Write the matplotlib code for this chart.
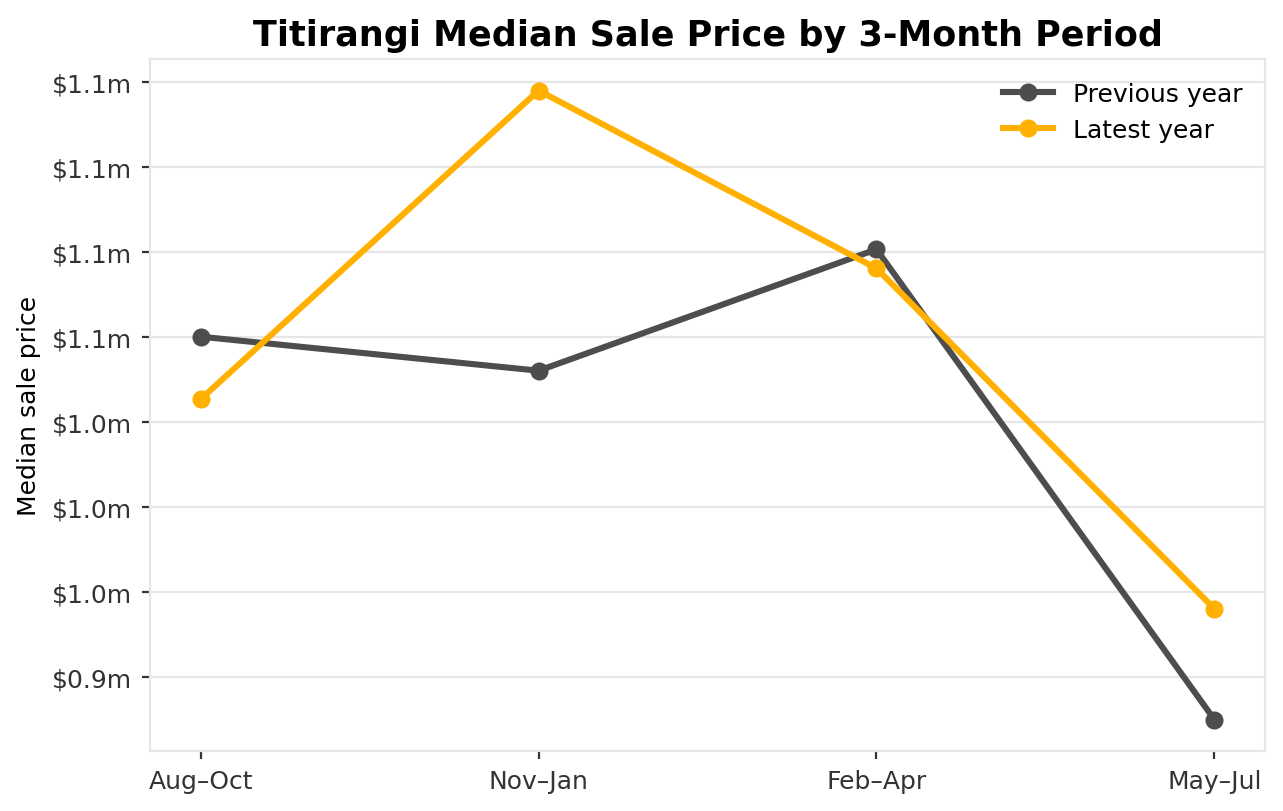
import matplotlib.pyplot as plt
from matplotlib.ticker import FuncFormatter, MultipleLocator

periods = ["Aug–Oct", "Nov–Jan", "Feb–Apr", "May–Jul"]
previous_year = [1050000, 1040000, 1075700, 937400]
latest_year = [1031600, 1122400, 1070100, 970000]

fig, ax = plt.subplots(figsize=(6.415, 4.06), dpi=200)
fig.subplots_adjust(left=0.1169, right=0.986, bottom=0.0739, top=0.926)

x = range(len(periods))
ax.plot(x, previous_year, color="#4d4d4d", lw=2.2, marker="o", ms=5.5, label="Previous year")
ax.plot(x, latest_year, color="#ffb000", lw=2.2, marker="o", ms=5.5, label="Latest year")

ax.set_xticks(list(x))
ax.set_xticklabels(periods)
ax.yaxis.set_major_locator(MultipleLocator(25000))
ax.yaxis.set_major_formatter(FuncFormatter(lambda v, p: "$%.1fm" % (v / 1e6)))

ax.grid(axis="y", color="#e6e6e6", lw=0.8)
ax.set_axisbelow(True)
for s in ax.spines.values():
    s.set_color("#e6e6e6")
    s.set_linewidth(0.8)
ax.tick_params(labelsize=9, colors="#333333", length=3, width=0.8)

ax.set_ylabel("Median sale price", fontsize=9)
ax.set_title("Titirangi Median Sale Price by 3-Month Period", fontsize=12.6, fontweight="bold", pad=5)
ax.legend(loc="upper right", frameon=False, fontsize=9)

fig.savefig("out.png", dpi=200)
